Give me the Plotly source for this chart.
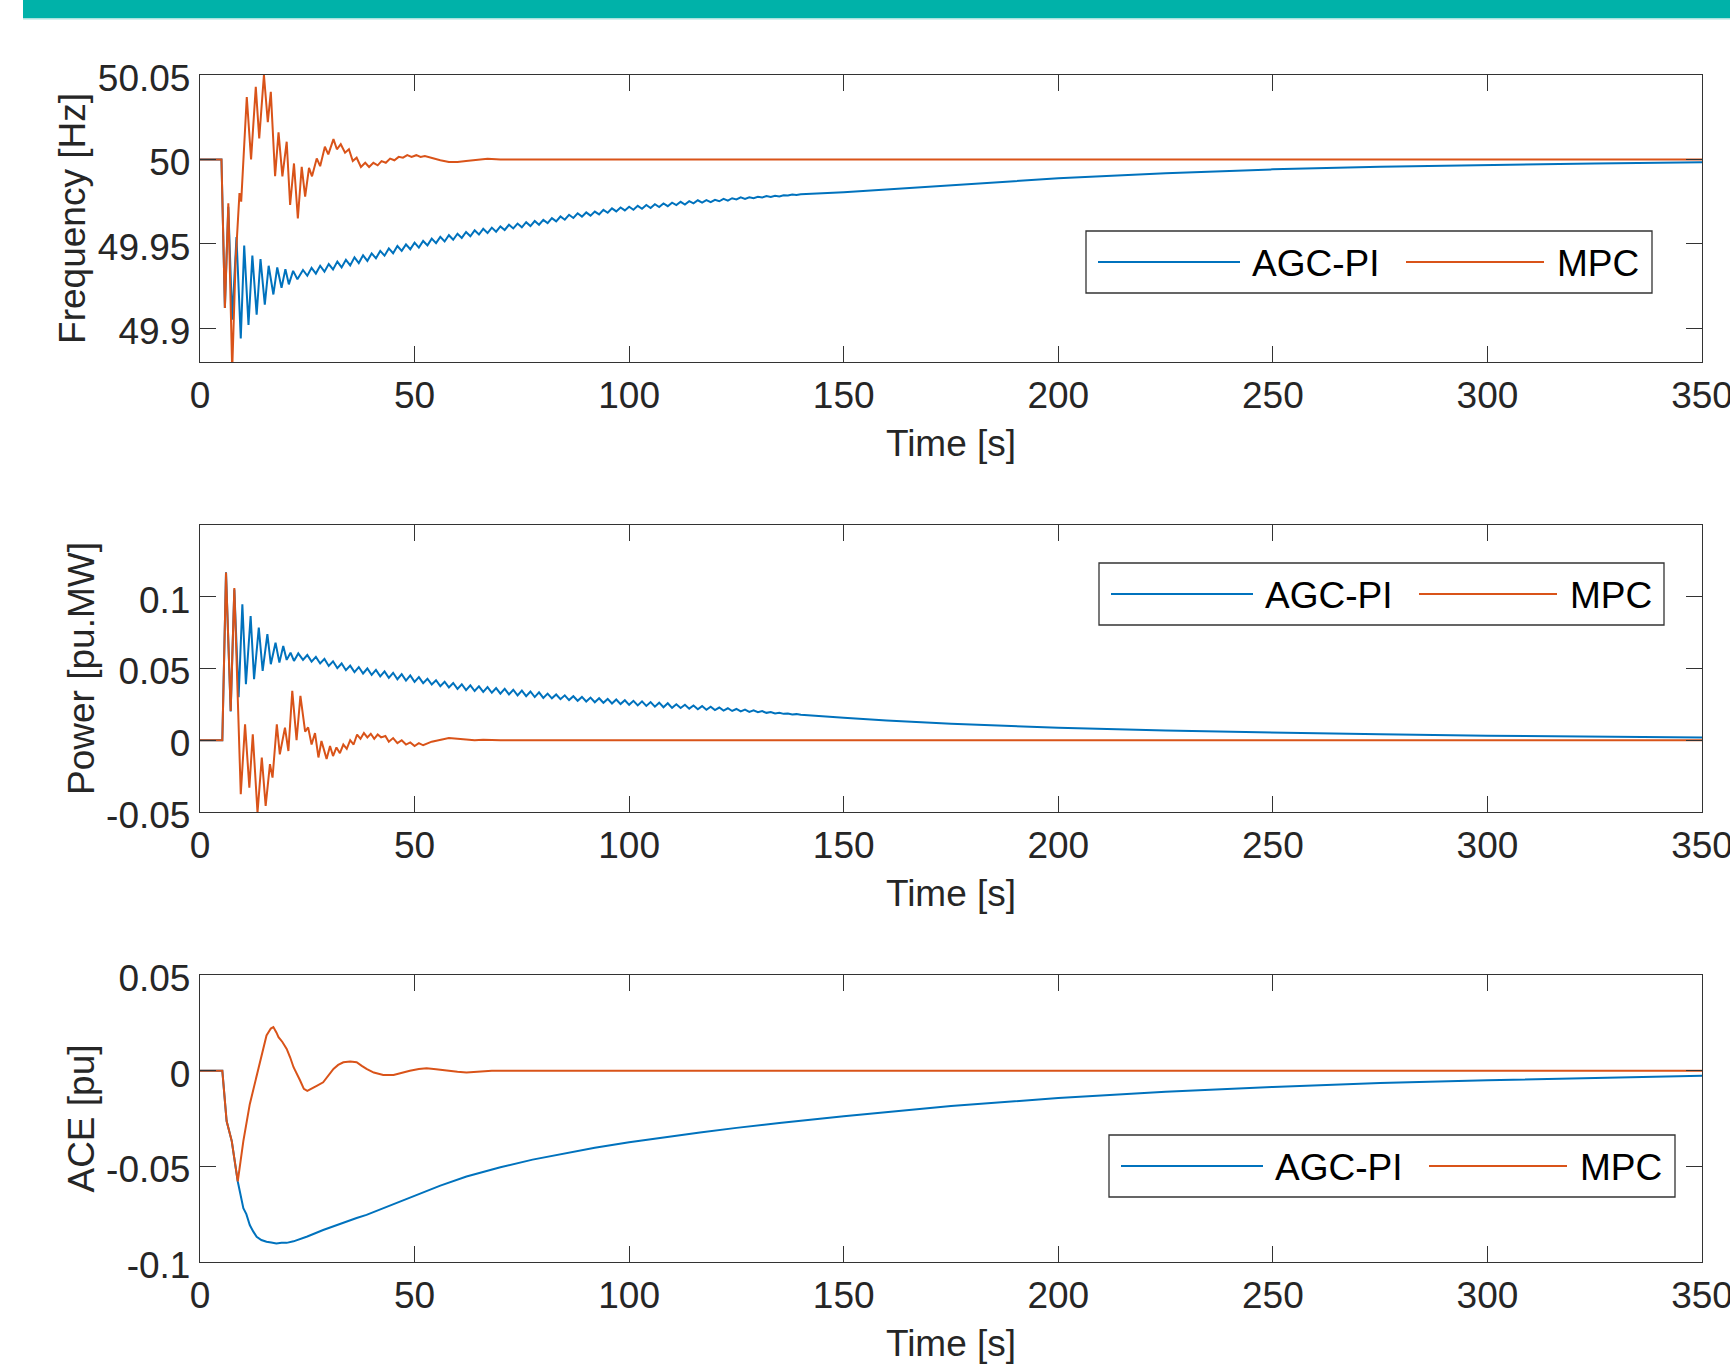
import plotly.graph_objects as go

# ---------------- data ----------------
series_names = ["AGC-PI", "MPC"]
x_ticks = [0, 50, 100, 150, 200, 250, 300, 350]
freq_ticks = [49.9, 49.95, 50, 50.05]
freq_tick_text = ["49.9", "49.95", "50", "50.05"]
power_ticks = [-0.05, 0, 0.05, 0.1]
power_tick_text = ["-0.05", "0", "0.05", "0.1"]
ace_ticks = [-0.1, -0.05, 0, 0.05]
ace_tick_text = ["-0.1", "-0.05", "0", "0.05"]

# sample times of the slowly decaying ripple section (s)
t_mid = [24, 25, 26, 27, 28, 29, 30, 31, 32, 33,
         34, 35, 36, 37, 38, 39, 40, 41, 42, 43,
         44, 45, 46, 47, 48, 49, 50, 51, 52, 53,
         54, 55, 56, 57, 58, 59, 60, 61, 62, 63,
         64, 65, 66, 67, 68, 69, 70, 71, 72, 73,
         74, 75, 76, 77, 78, 79, 80, 81, 82, 83,
         84, 85, 86, 87, 88, 89, 90, 91, 92, 93,
         94, 95, 96, 97, 98, 99, 100, 101, 102, 103,
         104, 105, 106, 107, 108, 109, 110, 111, 112, 113,
         114, 115, 116, 117, 118, 119, 120, 121, 122, 123,
         124, 125, 126, 127, 128, 129, 130, 131, 132, 133,
         134, 135, 136, 137, 138, 139, 140]
t_tail = [150, 160, 175, 200, 225, 250, 275, 300, 325, 350]

# Frequency [Hz] - AGC-PI
t_freq_pi_head = [0, 5.0, 5.8, 6.6, 7.5, 8.5, 9.5, 10.3, 11.3, 12.2, 13.2, 14.1, 15.1,
                  16.0, 17.1, 18.0, 19.0, 19.9, 20.7, 21.7, 22.7]
freq_pi_head = [50.0, 50.0, 49.912, 49.972, 49.905, 49.954, 49.894, 49.949, 49.902, 49.943,
                49.908, 49.941, 49.914, 49.937, 49.920, 49.936, 49.924, 49.935, 49.926,
                49.934, 49.929]
freq_pi_mid = [49.9345, 49.9311, 49.9358, 49.9324, 49.9370, 49.9335, 49.9380, 49.9348, 49.9395, 49.9360,
               49.9405, 49.9372, 49.9420, 49.9386, 49.9432, 49.9399, 49.9443, 49.9414, 49.9458, 49.9430,
               49.9473, 49.9444, 49.9487, 49.9458, 49.9497, 49.9468, 49.9507, 49.9478, 49.9517, 49.9491,
               49.9531, 49.9504, 49.9541, 49.9514, 49.9551, 49.9524, 49.9560, 49.9535, 49.9570, 49.9545,
               49.9580, 49.9555, 49.9589, 49.9564, 49.9596, 49.9572, 49.9603, 49.9582, 49.9613, 49.9591,
               49.9620, 49.9598, 49.9628, 49.9605, 49.9635, 49.9613, 49.9642, 49.9623, 49.9652, 49.9633,
               49.9662, 49.9643, 49.9672, 49.9653, 49.9681, 49.9661, 49.9686, 49.9667, 49.9691, 49.9674,
               49.9701, 49.9684, 49.9710, 49.9692, 49.9715, 49.9698, 49.9720, 49.9702, 49.9725, 49.9708,
               49.9730, 49.9712, 49.9735, 49.9718, 49.9739, 49.9723, 49.9744, 49.9729, 49.9749, 49.9733,
               49.9753, 49.9740, 49.9758, 49.9744, 49.9759, 49.9747, 49.9761, 49.9752, 49.9766, 49.9756,
               49.9770, 49.9763, 49.9775, 49.9766, 49.9776, 49.9770, 49.9779, 49.9774, 49.9783, 49.9778,
               49.9785, 49.9781, 49.9787, 49.9786, 49.9792, 49.9789, 49.9793]
freq_pi_tail = [49.9805, 49.9822, 49.9848, 49.9888, 49.9918, 49.9941, 49.9957, 49.9968, 49.9976, 49.9983]

# Frequency [Hz] - MPC
t_freq_mpc = [0, 5.0, 5.8, 6.6, 7.5, 8.3, 9.2, 9.6, 10.9, 11.9, 13.0, 13.8, 14.9, 15.8, 16.5,
              17.5, 18.3, 19.2, 20.2, 21.0, 21.9, 22.8, 23.7, 24.5, 25.4, 26.1, 27.2, 28.0,
              29.1, 29.9, 31.1, 31.9, 32.8, 33.8, 34.7, 35.6, 36.5, 37.5, 38.5, 39.4, 40.4,
              41.4, 42.3, 43.3, 44.3, 45.3, 46.3, 47.3, 48.3, 49.3, 50.4, 51.4, 52.4, 54, 56,
              58, 60, 62, 65, 67, 70, 350]
freq_mpc = [50.0, 50.0, 49.912, 49.974, 49.875, 49.94, 49.980, 49.975, 50.037, 50.000,
            50.043, 50.0125, 50.050, 50.022, 50.040, 49.990, 50.016, 49.990, 50.0105, 49.973,
            49.9976, 49.965, 49.9956, 49.978, 49.995, 49.990, 50.0006, 49.996, 50.0075, 50.003,
            50.012, 50.006, 50.009, 50.004, 50.006, 49.999, 50.001, 49.9955, 49.998, 49.9955,
            49.998, 49.9965, 49.999, 49.998, 50.0005, 49.9995, 50.0015, 50.001, 50.0025, 50.0015,
            50.0025, 50.0015, 50.002, 50.0008, 49.9995, 49.9985, 49.9985, 49.999, 50.0, 50.0004,
            50.0, 50.0]

# Power [pu.MW] - AGC-PI
t_power_pi_head = [0, 5.2, 6.06, 7.15, 8.0, 9.0, 9.87, 10.7, 11.8, 12.6, 13.7, 14.6, 15.7,
                   16.5, 17.6, 18.5, 19.4, 20.2, 21.1, 21.9, 22.9]
power_pi_head = [0, 0, 0.117, 0.020, 0.105, 0.030, 0.0948, 0.039, 0.0866, 0.0425, 0.0785,
                 0.0483, 0.0739, 0.053, 0.068, 0.0541, 0.0657, 0.056, 0.061, 0.0553, 0.0605]
power_pi_mid = [0.0560, 0.0594, 0.0548, 0.0581, 0.0535, 0.0567, 0.0518, 0.0550, 0.0503, 0.0535,
                0.0488, 0.0520, 0.0475, 0.0510, 0.0465, 0.0500, 0.0455, 0.0490, 0.0445, 0.0480,
                0.0435, 0.0470, 0.0425, 0.0461, 0.0416, 0.0452, 0.0407, 0.0440, 0.0398, 0.0429,
                0.0388, 0.0418, 0.0377, 0.0408, 0.0368, 0.0399, 0.0358, 0.0390, 0.0349, 0.0382,
                0.0343, 0.0376, 0.0337, 0.0370, 0.0331, 0.0364, 0.0325, 0.0358, 0.0319, 0.0352,
                0.0313, 0.0346, 0.0307, 0.0340, 0.0301, 0.0334, 0.0295, 0.0325, 0.0292, 0.0319,
                0.0286, 0.0313, 0.0280, 0.0307, 0.0275, 0.0302, 0.0270, 0.0297, 0.0265, 0.0293,
                0.0261, 0.0288, 0.0256, 0.0284, 0.0252, 0.0279, 0.0247, 0.0275, 0.0243, 0.0271,
                0.0239, 0.0266, 0.0234, 0.0262, 0.0230, 0.0258, 0.0226, 0.0251, 0.0225, 0.0247,
                0.0220, 0.0242, 0.0216, 0.0238, 0.0212, 0.0234, 0.0210, 0.0228, 0.0207, 0.0223,
                0.0204, 0.0218, 0.0201, 0.0213, 0.0198, 0.0208, 0.0195, 0.0203, 0.0191, 0.0197,
                0.0187, 0.0192, 0.0184, 0.0187, 0.0180, 0.0182, 0.0177]
power_pi_tail = [0.0157, 0.0138, 0.0115, 0.0087, 0.0068, 0.0054, 0.0041, 0.0032, 0.0025, 0.0019]

# Power [pu.MW] - MPC
t_power_mpc = [0, 5.2, 6.06, 7.15, 8.0, 9.5, 10.5, 11.5, 12.3, 13.4, 14.4, 15.3, 16.3, 16.9,
               17.9, 18.6, 19.8, 20.6, 21.5, 22.5, 23.4, 24.5, 25.2, 26.0, 26.8, 27.6, 28.3,
               29.5, 30.3, 31.0, 31.8, 32.6, 33.4, 34.2, 35.0, 35.8, 36.6, 37.4, 38.2, 39.0,
               39.8, 40.6, 41.4, 42.2, 43.2, 44.0, 45.0, 46.0, 47.0, 48.0, 49.0, 50.0, 51.0,
               52.0, 54.0, 56.0, 58.0, 60.0, 62.0, 64.0, 66.0, 70.0, 350]
power_mpc = [0, 0, 0.1168, 0.0204, 0.106, -0.0376, 0.0111, -0.033, 0.0042, -0.0505,
             -0.012, -0.0458, -0.0167, -0.026, 0.0111, -0.0098, 0.0088, -0.0075, 0.0344, 0.0,
             0.0309, 0.006, 0.009, -0.003, 0.005, -0.012, -0.0005, -0.013, -0.004, -0.011,
             -0.005, -0.009, -0.003, -0.006, 0.0, -0.003, 0.004, 0.001, 0.005, 0.002,
             0.0045, 0.001, 0.004, 0.002, 0.003, -0.001, 0.0015, -0.002, 0.0, -0.003,
             -0.0015, -0.004, -0.002, -0.0035, -0.001, 0.0, 0.0015, 0.001, 0.0007, 0.0,
             0.0004, 0.0, 0.0]

# ACE [pu] - AGC-PI
t_ace_pi = [0, 5.2, 6.2, 7.4, 8.8, 9.5, 10.1, 10.8, 11.6, 12.4, 13.2, 14.3, 15.5, 16.6, 17.8,
            19.0, 20.2, 21.8, 23.3, 25.0, 28.7, 32.0, 36.5, 38.8, 44.3, 50.5, 56.0, 62.1,
            66.0, 70.0, 77.5, 85.0, 92.0, 100.0, 108.0, 116.5, 125.0, 135.0, 150.0, 175.0,
            200.0, 225.0, 250.0, 275.0, 300.0, 325.0, 350.0]
ace_pi = [0, 0, -0.0263, -0.0368, -0.0579, -0.066, -0.0719, -0.075, -0.0807, -0.084,
          -0.0868, -0.0885, -0.0894, -0.0898, -0.0903, -0.0900, -0.0900, -0.0892, -0.0882,
          -0.0867, -0.0833, -0.0805, -0.0770, -0.0754, -0.0705, -0.0649, -0.0601, -0.0553,
          -0.0528, -0.0505, -0.0465, -0.0431, -0.0403, -0.0374, -0.0348, -0.0323, -0.0299,
          -0.0273, -0.0238, -0.0185, -0.0143, -0.0110, -0.0085, -0.0065, -0.0050, -0.0037,
          -0.0027]

# ACE [pu] - MPC
t_ace_mpc = [0, 5.2, 6.2, 7.4, 8.8, 10.1, 11.6, 12.8, 13.9, 15.5, 16.5, 17.1, 17.8, 18.3,
             19.2, 20.2, 21.0, 21.8, 23.3, 24.2, 25.0, 26.0, 27.2, 28.7, 30.0, 31.1, 32.2,
             33.4, 35.0, 36.5, 37.7, 38.8, 40.5, 42.7, 45.1, 47.0, 48.9, 51.0, 52.8, 55.0,
             57.5, 60.0, 62.1, 65.0, 68.0, 350]
ace_mpc = [0, 0, -0.0263, -0.0368, -0.0579, -0.0368, -0.0175, -0.006, 0.0035, 0.0184,
           0.022, 0.0228, 0.020, 0.0175, 0.015, 0.0114, 0.007, 0.0018, -0.005, -0.0095,
           -0.0105, -0.0095, -0.0079, -0.0061, -0.002, 0.0009, 0.003, 0.0044, 0.0048, 0.0044,
           0.0025, 0.0009, -0.001, -0.0023, -0.0023, -0.001, 0.0, 0.0009, 0.0012, 0.0008,
           0.0, -0.0006, -0.0009, -0.0004, 0.0, 0.0]

# ---------------- assemble series ----------------
t_freq_pi = t_freq_pi_head + t_mid + t_tail
freq_pi = freq_pi_head + freq_pi_mid + freq_pi_tail
t_power_pi = t_power_pi_head + t_mid + t_tail
power_pi = power_pi_head + power_pi_mid + power_pi_tail

for a, b in [(t_freq_pi, freq_pi), (t_freq_mpc, freq_mpc), (t_power_pi, power_pi),
             (t_power_mpc, power_mpc), (t_ace_pi, ace_pi), (t_ace_mpc, ace_mpc)]:
    assert len(a) == len(b), (len(a), len(b))

# ---------------- styling ----------------
BLUE = "#0072BD"
ORANGE = "#D95319"
AX = "#333333"
TXT = "#262626"
FONT = "Liberation Sans, Arial, Helvetica, sans-serif"
TICK_FS = 37
TITLE_FS = 37
LEG_FS = 37

W, H = 1730, 1364
ML, MR, MT, MB = 200, 28, 75, 102
PW, PH = W - ML - MR, H - MT - MB


def px_x(px):
    return (px - ML) / PW


def px_y(py):
    return (H - MB - py) / PH


panels = [(75, 362), (525, 812), (975, 1262)]

fig = go.Figure()

panel_series = [
    ((t_freq_pi, freq_pi), (t_freq_mpc, freq_mpc)),
    ((t_power_pi, power_pi), (t_power_mpc, power_mpc)),
    ((t_ace_pi, ace_pi), (t_ace_mpc, ace_mpc)),
]
for i, (pi_s, mpc_s) in enumerate(panel_series):
    sfx = "" if i == 0 else str(i + 1)
    fig.add_trace(go.Scatter(x=pi_s[0], y=pi_s[1], mode="lines", name=series_names[0],
                             line=dict(color=BLUE, width=2), showlegend=False,
                             xaxis="x" + sfx, yaxis="y" + sfx))
    fig.add_trace(go.Scatter(x=mpc_s[0], y=mpc_s[1], mode="lines", name=series_names[1],
                             line=dict(color=ORANGE, width=2), showlegend=False,
                             xaxis="x" + sfx, yaxis="y" + sfx))

axis_common = dict(showline=True, linecolor=AX, linewidth=1.3, mirror="ticks",
                   ticks="inside", ticklen=16, tickwidth=1.3, tickcolor=AX,
                   showgrid=False, zeroline=False, automargin=False,
                   ticklabeloverflow="allow",
                   tickfont=dict(family=FONT, size=TICK_FS, color=TXT))

y_specs = [
    ("Frequency [Hz]", [49.88, 50.05], freq_ticks, freq_tick_text),
    ("Power [pu.MW]", [-0.05, 0.15], power_ticks, power_tick_text),
    ("ACE [pu]", [-0.1, 0.05], ace_ticks, ace_tick_text),
]

layout = dict(width=W, height=H, margin=dict(l=ML, r=MR, t=MT, b=MB),
              paper_bgcolor="white", plot_bgcolor="white", showlegend=False,
              font=dict(family=FONT, color=TXT))

for i, ((top, bot), (ytitle, yr, yt, ytt)) in enumerate(zip(panels, y_specs)):
    sfx = "" if i == 0 else str(i + 1)
    layout["xaxis" + sfx] = dict(axis_common, domain=[0, 1], range=[0, 350],
                                 tickvals=x_ticks, ticktext=[str(v) for v in x_ticks],
                                 anchor="y" + sfx, ticklabelstandoff=0,
                                 title=dict(text="Time [s]", standoff=15,
                                            font=dict(family=FONT, size=TITLE_FS, color=TXT)))
    layout["yaxis" + sfx] = dict(axis_common, domain=[px_y(bot), px_y(top)], range=yr,
                                 tickvals=yt, ticktext=ytt, anchor="x" + sfx,
                                 ticklabelstandoff=1, ticklabelshift=3,
                                 title=dict(text=ytitle, standoff=0,
                                            font=dict(family=FONT, size=TITLE_FS, color=TXT)))

fig.update_layout(**layout)

# top banner
shapes = [
    dict(type="rect", xref="paper", yref="paper", x0=px_x(23), x1=px_x(1730),
         y0=px_y(18), y1=px_y(0), fillcolor="#00B2A9", line=dict(width=0), layer="above"),
    dict(type="rect", xref="paper", yref="paper", x0=px_x(23), x1=px_x(1730),
         y0=px_y(19.5), y1=px_y(18), fillcolor="#A8E2DE", line=dict(width=0), layer="above"),
]
annotations = []

# legends (box with long line samples, MATLAB style)
legend_boxes = [(1086, 231, 1652, 293), (1099, 563, 1664, 625), (1109, 1135, 1675, 1197)]
for (bx0, by0, bx1, by1) in legend_boxes:
    yc = (by0 + by1) / 2
    shapes.append(dict(type="rect", xref="paper", yref="paper",
                       x0=px_x(bx0), x1=px_x(bx1), y0=px_y(by1), y1=px_y(by0),
                       fillcolor="white", line=dict(color=AX, width=1.3), layer="above"))
    for (lx0, lx1, tx, name, col) in [(12, 154, 164, series_names[0], BLUE),
                                      (320, 458, 469, series_names[1], ORANGE)]:
        shapes.append(dict(type="line", xref="paper", yref="paper",
                           x0=px_x(bx0 + lx0), x1=px_x(bx0 + lx1), y0=px_y(yc), y1=px_y(yc),
                           line=dict(color=col, width=2), layer="above"))
        annotations.append(dict(xref="paper", yref="paper", x=px_x(bx0 + tx), y=px_y(yc + 1),
                                text=name, showarrow=False, xanchor="left", yanchor="middle",
                                font=dict(family=FONT, size=LEG_FS, color="#000000")))

fig.update_layout(shapes=shapes, annotations=annotations)

fig.write_html("out.html",
               config={"displayModeBar": False},
               post_script="document.body.style.margin='0px';"
                           "document.documentElement.style.overflow='hidden';")
